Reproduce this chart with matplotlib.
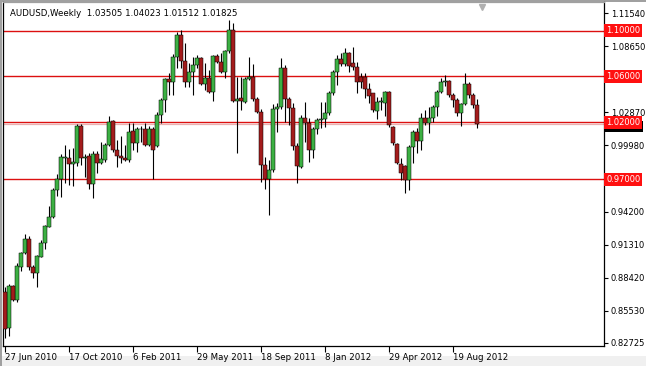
import matplotlib
matplotlib.use("Agg")
import matplotlib.pyplot as plt
import numpy as np
import pandas as pd

# weekly AUDUSD candles, first week 27 Jun 2010
opens = [0.8720, 0.8400, 0.8770, 0.8648, 0.8939, 0.9055, 0.9177, 0.8933, 0.8881, 0.9026,
         0.9148, 0.9288, 0.9370, 0.9608, 0.9707, 0.9885, 0.9885, 0.9833, 0.9847, 1.0167,
         0.9885, 0.9905, 0.9658, 0.9923, 0.9841, 0.9870, 0.9998, 1.0208, 0.9958, 0.9905,
         0.9890, 0.9870, 1.0124, 1.0016, 1.0138, 1.0145, 1.0000, 1.0138, 0.9990, 1.0263,
         1.0394, 1.0578, 1.0549, 1.0773, 1.0962, 1.0738, 1.0548, 1.0636, 1.0700, 1.0764,
         1.0531, 1.0589, 1.0467, 1.0781, 1.0723, 1.0642, 1.0822, 1.1006, 1.0386, 1.0409,
         1.0380, 1.0575, 1.0598, 1.0403, 1.0286, 0.9827, 0.9704, 0.9783, 1.0313, 1.0336,
         1.0677, 1.0403, 1.0327, 0.9995, 0.9812, 1.0234, 1.0195, 0.9960, 1.0141, 1.0220,
         1.0230, 1.0280, 1.0458, 1.0642, 1.0749, 1.0706, 1.0802, 1.0714, 1.0685, 1.0598,
         1.0598, 1.0487, 1.0452, 1.0298, 1.0380, 1.0365, 1.0467, 1.0161, 1.0010, 0.9835,
         0.9818, 0.9696, 0.9981, 1.0118, 1.0036, 1.0234, 1.0190, 1.0234, 1.0336, 1.0467,
         1.0550, 1.0563, 1.0438, 1.0394, 1.0278, 1.0359, 1.0534, 1.0438, 1.03505]
highs = [0.8760, 0.8790, 0.8779, 0.8968, 0.9070, 0.9224, 0.9207, 0.8953, 0.9041, 0.9170,
         0.9303, 0.9469, 0.9623, 0.9748, 0.9923, 1.0001, 0.9964, 0.9972, 1.0182, 1.0185,
         0.9923, 0.9934, 0.9952, 0.9952, 1.0030, 1.0016, 1.0255, 1.0220, 1.0045, 1.0080,
         0.9998, 1.0196, 1.0196, 1.0161, 1.0167, 1.0196, 1.0167, 1.0161, 1.0292, 1.0409,
         1.0590, 1.0627, 1.0793, 1.0991, 1.1005, 1.0889, 1.0714, 1.0773, 1.0787, 1.0773,
         1.0714, 1.0656, 1.0787, 1.0793, 1.0802, 1.0831, 1.1093, 1.1064, 1.0598, 1.0598,
         1.0598, 1.0773, 1.0706, 1.0423, 1.0316, 0.9899, 0.9870, 1.0357, 1.0365, 1.0758,
         1.0700, 1.0423, 1.0365, 1.0016, 1.0263, 1.0380, 1.0234, 1.0161, 1.0234, 1.0380,
         1.0380, 1.0473, 1.0656, 1.0787, 1.0802, 1.0845, 1.0815, 1.0854, 1.0729, 1.0627,
         1.0627, 1.0540, 1.0452, 1.0423, 1.0423, 1.0476, 1.0473, 1.0167, 1.0022, 0.9885,
         0.9827, 1.0001, 1.0132, 1.0147, 1.0278, 1.0307, 1.0336, 1.0350, 1.0482, 1.0583,
         1.0612, 1.0569, 1.0452, 1.0409, 1.0365, 1.0633, 1.0554, 1.0452, 1.04023]
lows = [0.8316, 0.8330, 0.8642, 0.8633, 0.8904, 0.9049, 0.8910, 0.8837, 0.8764, 0.9020,
        0.9090, 0.9282, 0.9361, 0.9556, 0.9544, 0.9667, 0.9652, 0.9643, 0.9818, 0.9827,
        0.9725, 0.9620, 0.9536, 0.9754, 0.9835, 0.9856, 0.9993, 0.9943, 0.9806, 0.9841,
        0.9860, 0.9856, 0.9958, 0.9943, 1.0030, 0.9990, 0.9993, 0.9702, 0.9980, 1.0190,
        1.0286, 1.0438, 1.0438, 1.0671, 1.0671, 1.0511, 1.0511, 1.0438, 1.0671, 1.0525,
        1.0482, 1.0452, 1.0386, 1.0714, 1.0627, 1.0583, 1.0802, 1.0374, 0.9929, 1.0307,
        1.0365, 1.0569, 1.0386, 1.0278, 0.9681, 0.9617, 0.9390, 0.9768, 1.0118, 1.0316,
        1.0205, 1.0176, 0.9958, 0.9666, 0.9797, 1.0030, 0.9856, 0.9885, 1.0100, 1.0150,
        1.0160, 1.0263, 1.0438, 1.0525, 1.0691, 1.0691, 1.0642, 1.0656, 1.0452, 1.0496,
        1.0409, 1.0365, 1.0292, 1.0225, 1.0307, 1.0255, 1.0161, 1.0001, 0.9835, 0.9696,
        0.9581, 0.9608, 0.9841, 0.9928, 0.9957, 1.0176, 1.0103, 1.0205, 1.0255, 1.0458,
        1.0516, 1.0423, 1.0336, 1.0255, 1.0167, 1.0350, 1.0409, 1.0321, 1.01512]
closes = [0.8390, 0.8770, 0.8648, 0.8945, 0.9055, 0.9177, 0.8933, 0.8881, 0.9032, 0.9148,
          0.9294, 0.9370, 0.9608, 0.9707, 0.9894, 0.9895, 0.9833, 0.9856, 1.0167, 0.9885,
          0.9900, 0.9658, 0.9923, 0.9841, 0.9876, 0.9998, 1.0202, 0.9958, 0.9905, 0.9890,
          0.9870, 1.0118, 1.0016, 1.0138, 1.0142, 1.0000, 1.0145, 0.9958, 1.0263, 1.0394,
          1.0578, 1.0549, 1.0773, 1.0962, 1.0738, 1.0548, 1.0636, 1.0700, 1.0764, 1.0531,
          1.0589, 1.0467, 1.0781, 1.0723, 1.0642, 1.0822, 1.1006, 1.0386, 1.0400, 1.0386,
          1.0578, 1.0598, 1.0403, 1.0286, 0.9827, 0.9704, 0.9783, 1.0316, 1.0336, 1.0677,
          1.0403, 1.0327, 0.9995, 0.9821, 1.0234, 1.0195, 0.9960, 1.0138, 1.0220, 1.0230,
          1.0280, 1.0458, 1.0642, 1.0749, 1.0706, 1.0802, 1.0691, 1.0685, 1.0554, 1.0554,
          1.0487, 1.0429, 1.0307, 1.0380, 1.0382, 1.0467, 1.0176, 1.0016, 0.9841, 0.9754,
          0.9696, 0.9981, 1.0118, 1.0036, 1.0234, 1.0190, 1.0234, 1.0336, 1.0467, 1.0554,
          1.0563, 1.0438, 1.0394, 1.0278, 1.0359, 1.0534, 1.0438, 1.0350, 1.01825]

levels = [1.10, 1.06, 1.02, 0.97]
price_ticks = [1.11540, 1.08650, 1.05760, 1.02870, 0.99980, 0.97090,
               0.94200, 0.91310, 0.88420, 0.85530]
bottom_tick = 0.82725
title = "AUDUSD,Weekly  1.03505 1.04023 1.01512 1.01825"

dates = pd.date_range("2010-06-27", periods=len(opens), freq="W-SUN")

W, H = 646, 366
plt.rcParams["font.family"] = "DejaVu Sans"
fig = plt.figure(figsize=(W / 100, H / 100), dpi=100, facecolor="white")

ax = fig.add_axes([3 / W, 1 - 346 / H, 601 / W, 344 / H])
ax.set_facecolor("white")
ax.set_xlim(-0.5, 149.75)
ax.set_ylim(0.82457, 1.12501)

o = np.array(opens)
c = np.array(closes)
x = np.arange(len(o))
up = c >= o

ax.vlines(x, lows, highs, color="black", lw=0.8, zorder=3)
ax.bar(x[up], (c - o)[up], bottom=o[up], width=0.8, color="#3cb043",
       edgecolor="black", lw=0.35, zorder=4)
ax.bar(x[~up], (o - c)[~up], bottom=c[~up], width=0.8, color="#a31c1c",
       edgecolor="black", lw=0.35, zorder=4)

# horizontal levels + bid line
ax.axhline(closes[-1], color="#eab0b0", lw=0.9, zorder=1)
for lv in levels:
    ax.axhline(lv, color="#dc1010", lw=1.0, zorder=2)

for s in ax.spines.values():
    s.set_color("black")
    s.set_linewidth(0.9)
ax.spines["top"].set_color("#a0a0a0")

# right price scale (labels hidden under level boxes are left blank)
hidden = {1.05760, 0.97090}
yt = price_ticks + [bottom_tick]
ax.yaxis.tick_right()
ax.set_yticks(yt)
ax.set_yticklabels(["" if v in hidden else f"{v:.5f}" for v in yt])
ax.tick_params(axis="y", direction="out", length=3, width=0.8, pad=2,
               labelsize=6.0, colors="black")

# bottom date scale
idx = list(range(0, len(dates), 16))
ax.set_xticks(idx)
ax.set_xticklabels([f"{d.day} {d:%b %Y}" for d in dates[idx]], ha="left")
ax.tick_params(axis="x", direction="out", length=4, width=0.8, pad=1,
               labelsize=6.2)

# level labels on the price scale; bid box peeks out below 1.02
tr = ax.get_yaxis_transform()
ax.add_patch(plt.Rectangle((1.0015, closes[-1] - 0.0068), 0.064, 0.0095,
                           transform=tr, fc="black", ec="none", zorder=8,
                           clip_on=False))
for lv in levels:
    ax.text(1.0035, lv, f"{lv:.5f}", transform=tr, fontsize=6.0, color="white",
            va="center", ha="left", zorder=10,
            bbox=dict(boxstyle="square,pad=0.22", fc="#ff1010", ec="none"),
            clip_on=False)

# title and chart-shift marker
fig.text(10 / W, 1 - 13 / H, title, fontsize=6.2, va="center", ha="left")
ax.plot([119.3], [1.1205], marker="v", ms=5, color="#b0b0b0", mec="#b0b0b0",
        clip_on=False, zorder=5)

# window frame
fig.patches.append(plt.Rectangle((0, 0), 1, 1 - 356 / H, transform=fig.transFigure,
                                 fc="#f0f0f0", ec="none", zorder=-1))
fig.patches.append(plt.Rectangle((0, 0), 2 / W, 1, transform=fig.transFigure,
                                 fc="#a0a0a0", ec="none", zorder=-1))
fig.patches.append(plt.Rectangle((0, 1 - 2 / H), 1, 2 / H, transform=fig.transFigure,
                                 fc="#a0a0a0", ec="none", zorder=-1))

fig.savefig("out.png", dpi=100, facecolor=fig.get_facecolor())
